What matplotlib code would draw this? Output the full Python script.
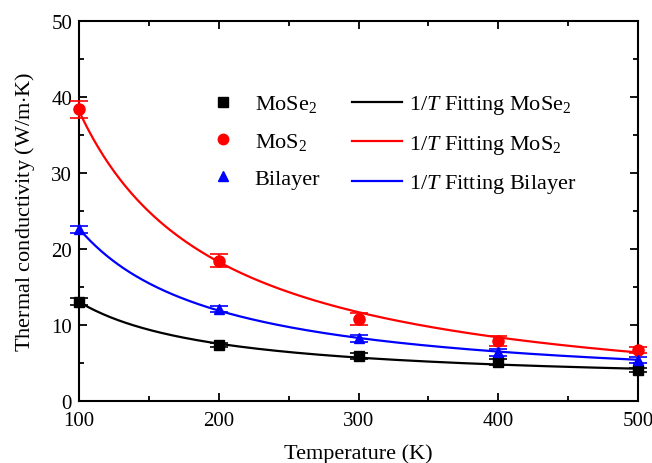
import matplotlib
matplotlib.use("Agg")
import matplotlib.pyplot as plt
import numpy as np
from matplotlib.lines import Line2D
from matplotlib.ticker import MultipleLocator

temperature = np.array([100, 200, 300, 400, 500])

k_mose2 = np.array([13.1, 7.4, 5.9, 5.1, 4.1])
err_mose2 = np.array([0.4, 0.3, 0.4, 0.4, 0.3])

k_mos2 = np.array([38.4, 18.5, 10.8, 7.9, 6.7])
err_mos2 = np.array([1.1, 0.8, 0.85, 0.65, 0.4])

k_bilayer = np.array([22.6, 12.1, 8.25, 6.4, 5.4])
err_bilayer = np.array([0.5, 0.4, 0.5, 0.5, 0.4])

series_names = ["MoSe$_2$", "MoS$_2$", "Bilayer"]
series_colors = ["black", "red", "blue"]
series_markers = ["s", "o", "^"]


def main() -> None:
    plt.rcParams["font.family"] = "Liberation Serif"
    plt.rcParams["mathtext.fontset"] = "custom"
    plt.rcParams["mathtext.rm"] = "Liberation Serif"
    plt.rcParams["mathtext.it"] = "Liberation Serif:italic"

    fig = plt.figure(figsize=(6.52, 4.64), dpi=100)
    ax = fig.add_axes([0.1212, 0.1336, 0.8573, 0.8184])

    t_fine = np.linspace(100, 500, 300)
    series = [(k_mose2, err_mose2), (k_mos2, err_mos2), (k_bilayer, err_bilayer)]
    point_handles = []
    fit_handles = []
    for (k, err), name, color, marker in zip(series, series_names, series_colors, series_markers):
        # weighted fit of k = a / T + b
        a, b = np.polyfit(1.0 / temperature, k, 1, w=1.0 / err)
        ax.plot(t_fine, a / t_fine + b, color=color, lw=1.6, zorder=2)
        ms = 8 if marker == "o" else 7.5
        ax.errorbar(temperature, k, yerr=err, fmt=marker, color=color, ms=ms,
                    capsize=6.5, elinewidth=1.2, capthick=1.2, clip_on=False, zorder=3)
        point_handles.append(Line2D([], [], ls="none", marker=marker, color=color,
                                    ms=7.5, label=name))
        fit_handles.append(Line2D([], [], color=color, lw=1.6,
                                  label="$1/T$ Fitting " + name))

    ax.set_xlim(100, 500)
    ax.set_ylim(0, 50)
    ax.xaxis.set_major_locator(MultipleLocator(100))
    ax.xaxis.set_minor_locator(MultipleLocator(50))
    ax.yaxis.set_major_locator(MultipleLocator(10))
    ax.yaxis.set_minor_locator(MultipleLocator(5))
    ax.tick_params(which="both", direction="in", top=True, right=True, width=1.3)
    ax.tick_params(which="major", length=6, labelsize=15)
    ax.tick_params(axis="x", which="major", pad=7)
    ax.tick_params(axis="y", which="major", pad=5)
    ax.tick_params(which="minor", length=3.5)
    for spine in ax.spines.values():
        spine.set_linewidth(1.5)

    ax.set_xlabel("Temperature (K)", fontsize=16, labelpad=10)
    ax.set_ylabel("Thermal conductivity (W/m$\\cdot$K)", fontsize=16, labelpad=10)

    ax.legend(handles=point_handles + fit_handles, ncol=2, frameon=False,
              loc="upper left", bbox_to_anchor=(0.213, 0.81), borderaxespad=0,
              borderpad=0, fontsize=16, handlelength=2.25, columnspacing=1.45,
              labelspacing=0.74, handletextpad=0.3)

    fig.savefig("out.png", dpi=100)


if __name__ == "__main__":
    main()
